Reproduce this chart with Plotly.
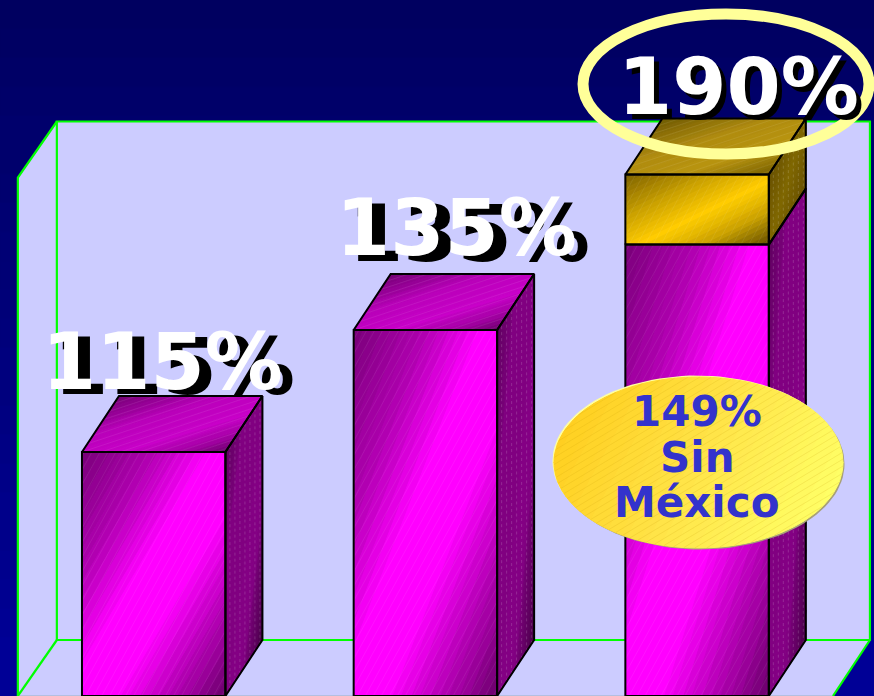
import numpy as np
import plotly.graph_objects as go

# ---- data ----
bar_values = [115, 135, 149]      # magenta series, height on the value axis
upper_values = [0, 0, 11.5]       # gold series stacked on top
bar_labels = ["115%", "135%", "190%"]
note_lines = ["149%", "Sin", "México"]

W, H = 874, 696
PX_X, PX_Y = 271.7, 6.1           # axis scale, px per unit
Y_MIN, Y_MAX = 75, 160
X_C0 = 153.7
BAR_W = 0.528
DX, DY = 37 / PX_X, 56 / PX_Y     # 3D depth in axis units
DX_LEFT = 39 / PX_X

MAG_FRONT = [(0, "#780078"), (.25, "#B000B0"), (.45, "#FF00FF"), (.62, "#FF00FF"), (.82, "#B000B0"), (1, "#6C006C")]
MAG_TOP = [(0, "#720072"), (.35, "#B800B8"), (.65, "#C800C8"), (.85, "#A000A0"), (1, "#680068")]
MAG_SIDE = [(0, "#5C005C"), (.25, "#800080"), (.7, "#840084"), (1, "#480048")]
GOLD_FRONT = [(0, "#7A6000"), (.3, "#C89E00"), (.55, "#FFCC00"), (.75, "#D0A600"), (1, "#665000")]
GOLD_TOP = [(0, "#6E5800"), (.4, "#B08C10"), (.7, "#B89410"), (1, "#7A6000")]
GOLD_SIDE = [(0, "#665000"), (.5, "#806600"), (1, "#665000")]
NOTE = [(0, "#FFCF20"), (.5, "#FFE448"), (1, "#FFFF66")]
BG = [(0, "#000060"), (1, "#000098")]
WALL = "#CCCCFF"
EDGE = "#00FF00"


def hex2rgb(h):
    return np.array([int(h[i:i + 2], 16) for i in (1, 3, 5)], float)


def color_at(stops, t):
    ts = [s[0] for s in stops]
    cs = np.array([hex2rgb(s[1]) for s in stops])
    v = [np.interp(t, ts, cs[:, k]) for k in range(3)]
    return "#%02X%02X%02X" % tuple(int(round(c / 3) * 3) for c in v)


def clip(poly, n, lo, hi):
    def half(pts, sign, lim):
        out = []
        for i in range(len(pts)):
            a, b = pts[i], pts[(i + 1) % len(pts)]
            da, db = sign * (a @ n - lim), sign * (b @ n - lim)
            if da >= 0:
                out.append(a)
            if da * db < 0:
                out.append(a + (b - a) * da / (da - db))
        return out
    p = half(list(poly), 1, lo)
    return half(p, -1, hi) if p else []


SCALE = np.array([PX_X, PX_Y])


def gradient(layer, corners, stops, normal=None, bands=30):
    """fill a convex polygon (axis units) with bands of colour along a direction"""
    pts = np.array(corners, float) * SCALE
    if normal is None:                       # across the anti-diagonal
        d = pts[2] - pts[0]
        normal = (d[1], -d[0])
    n = np.array(normal, float)
    n = n / np.hypot(*n)
    pr = pts @ n
    lo, hi = pr.min(), pr.max()
    edges = np.linspace(lo, hi, bands + 1)
    for i in range(bands):
        c = clip(pts, n, edges[i], edges[i + 1])
        if len(c) < 3:
            continue
        col = color_at(stops, (i + .5) / bands)
        xs, ys = layer.setdefault(col, ([], []))
        for q in c + [c[0]]:
            xs.append(q[0] / PX_X)
            ys.append(q[1] / PX_Y)
        xs.append(None)
        ys.append(None)


def hatch(store, corners, direction, step):
    pts = np.array(corners, float) * SCALE
    u = np.array(direction, float)
    u = u / np.hypot(*u)
    n = np.array([-u[1], u[0]])
    pr = pts @ n
    for lim in np.arange(pr.min() + step / 2, pr.max(), step):
        s = clip(pts, n, lim - .01, lim + .01)
        if len(s) >= 2:
            arr = np.array(s)
            al = arr @ u
            a, b = arr[al.argmin()], arr[al.argmax()]
            store[0].extend([a[0] / PX_X, b[0] / PX_X, None])
            store[1].extend([a[1] / PX_Y, b[1] / PX_Y, None])


fig = go.Figure()


def flush(layer):
    for col, (xs, ys) in layer.items():
        fig.add_trace(go.Scatter(x=xs, y=ys, mode="lines", fill="toself", fillcolor=col,
                                 line=dict(color=col, width=1), hoverinfo="skip", showlegend=False))


def poly(corners, fill=None, line=None, width=1.5):
    xs = [c[0] for c in corners]
    ys = [c[1] for c in corners]
    fig.add_trace(go.Scatter(x=xs, y=ys, mode="lines", fill="toself" if fill else None, fillcolor=fill,
                             line=dict(color=line or "rgba(0,0,0,0)", width=width),
                             hoverinfo="skip", showlegend=False))


x_range = [-X_C0 / PX_X, (W - X_C0) / PX_X]
y_range = [Y_MIN, Y_MIN + H / PX_Y]

# background
bg = {}
gradient(bg, [(x_range[0], y_range[0]), (x_range[1], y_range[0]), (x_range[1], y_range[1]), (x_range[0], y_range[1])],
         BG, normal=(0, -1), bands=24)
flush(bg)

# chart walls
L, R = -0.5, 2.5
BL = L + DX_LEFT
BR = R + DX
poly([(L, Y_MIN), (BL, Y_MIN + DY), (BR, Y_MIN + DY), (R, Y_MIN)], fill=WALL)
poly([(L, Y_MIN), (L, Y_MAX), (BL, Y_MAX + DY), (BL, Y_MIN + DY)], fill=WALL)
poly([(BL, Y_MIN + DY), (BR, Y_MIN + DY), (BR, Y_MAX + DY), (BL, Y_MAX + DY)], fill=WALL)
poly([(L, Y_MIN), (R, Y_MIN)], line="#9DB2C0", width=1)
poly([(BL, Y_MIN + DY), (BR, Y_MIN + DY), (BR, Y_MAX + DY), (BL, Y_MAX + DY), (BL, Y_MIN + DY)],
     line=EDGE, width=2.2)
poly([(L, Y_MIN), (L, Y_MAX), (BL, Y_MAX + DY)], line=EDGE, width=2.2)
poly([(L, Y_MIN), (BL, Y_MIN + DY)], line=EDGE, width=2.2)
poly([(R, Y_MIN), (BR, Y_MIN + DY)], line=EDGE, width=2.2)

# bars
faces = {}
hatch_front, hatch_top, hatch_side = ([], []), ([], []), ([], [])
outlines = []


def box(x0, x1, y0, y1, fs, ts, ss, with_top=True):
    front = [(x0, y0), (x1, y0), (x1, y1), (x0, y1)]
    side = [(x1, y0), (x1 + DX, y0 + DY), (x1 + DX, y1 + DY), (x1, y1)]
    top = [(x0, y1), (x1, y1), (x1 + DX, y1 + DY), (x0 + DX, y1 + DY)]
    gradient(faces, front, fs)
    gradient(faces, side, ss)
    hatch(hatch_front, front, (0.55, 1), 7)
    hatch(hatch_side, side, (0, 1), 5)
    outlines.extend([front + [front[0]], side + [side[0]]])
    if with_top:
        gradient(faces, top, ts)
        hatch(hatch_top, top, (1, 0.33), 6)
        outlines.append(top + [top[0]])


for i, (v, u) in enumerate(zip(bar_values, upper_values)):
    x0, x1 = i - BAR_W / 2, i + BAR_W / 2
    box(x0, x1, Y_MIN, v, MAG_FRONT, MAG_TOP, MAG_SIDE, with_top=(u == 0))
    if u:
        box(x0, x1, v, v + u, GOLD_FRONT, GOLD_TOP, GOLD_SIDE)

flush(faces)
for st, col, w, dash in ((hatch_front, "rgba(255,255,255,0.07)", 1, "solid"),
                         (hatch_top, "rgba(255,255,255,0.08)", 1, "solid"),
                         (hatch_side, "rgba(255,255,255,0.16)", 1, "3px,3px")):
    fig.add_trace(go.Scatter(x=st[0], y=st[1], mode="lines", line=dict(color=col, width=w, dash=dash),
                             hoverinfo="skip", showlegend=False))
for o in outlines:
    poly(o, line="#000000", width=2)

# note ellipse (annotation, in axis units)
th = np.linspace(0, 2 * np.pi, 121)[:-1]
ecx, ecy = 698.5, (H - 462.5)


def ell(ox, oy):
    return [((ecx + ox + 144.5 * np.cos(a) - X_C0) / PX_X, (ecy + oy + 85.5 * np.sin(a)) / PX_Y + Y_MIN) for a in th]


poly(ell(1.5, -1.5) + [ell(1.5, -1.5)[0]], fill="#A8A078")
poly(ell(-1.5, 1.5) + [ell(-1.5, 1.5)[0]], fill="#FFFFA0")
note = {}
gradient(note, ell(0, 0), NOTE, normal=(1, -0.55), bands=40)
flush(note)
hatch_note = ([], [])
hatch(hatch_note, ell(0, 0), (1, 0.6), 6)
fig.add_trace(go.Scatter(x=hatch_note[0], y=hatch_note[1], mode="lines",
                         line=dict(color="rgba(190,150,0,0.16)", width=1), hoverinfo="skip", showlegend=False))

# ring round the 190 %
fig.add_shape(type="circle", xref="paper", yref="paper", x0=(726 - 143) / W, x1=(726 + 143) / W,
              y0=1 - (84 + 70) / H, y1=1 - (84 - 70) / H, line=dict(color="#FFFF99", width=11),
              fillcolor="rgba(0,0,0,0)", layer="above")

# labels: (white centre x, centre y, shadow dx, dy)
label_pos = [(162.5, 362, 12, 5), (456, 228.5, 13, 6), (738.5, 87, 5, 5)]
FONT = "DejaVu Sans"
for txt, (cx, cy, sx, sy) in zip(bar_labels, label_pos):
    for col, ox, oy in (("#000000", sx, sy), ("#FFFFFF", 0, 0)):
        fig.add_annotation(x=(cx + ox) / W, y=1 - (cy + oy) / H, xref="paper", yref="paper", text=f"<b>{txt}</b>",
                           showarrow=False, xanchor="center", yanchor="middle",
                           font=dict(family=FONT, size=78, color=col))
for txt, cy in zip(note_lines, (411, 457, 502)):
    fig.add_annotation(x=697 / W, y=1 - cy / H, xref="paper", yref="paper", text=f"<b>{txt}</b>",
                       showarrow=False, xanchor="center", yanchor="middle",
                       font=dict(family=FONT, size=42, color="#3333CC"))

fig.update_layout(width=W, height=H, margin=dict(l=0, r=0, t=0, b=0), showlegend=False,
                  paper_bgcolor="#000080", plot_bgcolor="#000080",
                  xaxis=dict(range=x_range, visible=False, fixedrange=True),
                  yaxis=dict(range=y_range, visible=False, fixedrange=True),
                  hovermode=False)
fig.write_html("out.html", config={"displayModeBar": False},
               post_script="document.body.style.margin='0';document.body.style.overflow='hidden';")
